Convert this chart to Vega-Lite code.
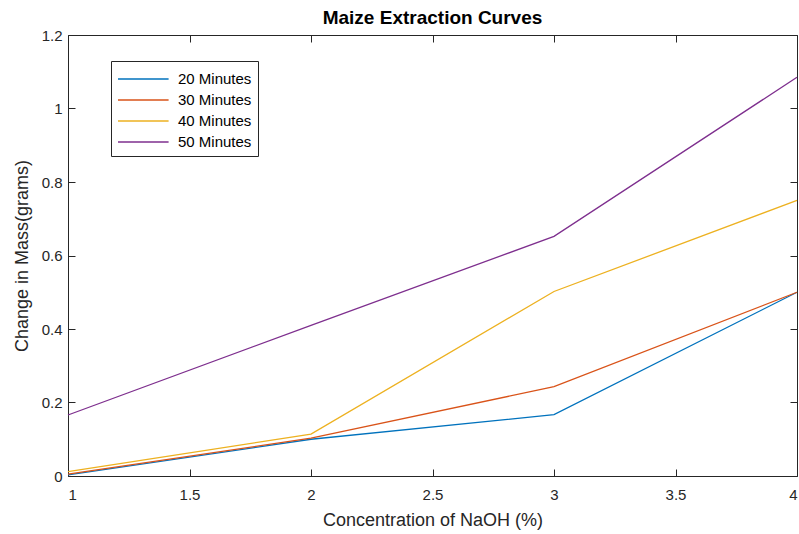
{
  "$schema": "https://vega.github.io/schema/vega-lite/v6.json",
  "width": 729,
  "height": 441,
  "autosize": "none",
  "padding": {"left": 68, "top": 35, "right": 2, "bottom": 58},
  "background": "white",
  "config": {
    "view": {"stroke": null},
    "font": "Liberation Sans",
    "axis": {"grid": false, "domainColor": "#262626", "tickColor": "#262626", "labelColor": "#262626", "titleColor": "#262626", "labelFontSize": 15, "titleFontSize": 18, "titleFontWeight": "normal", "labelFont": "Liberation Sans", "titleFont": "Liberation Sans", "tickSize": -7, "domainWidth": 1, "tickWidth": 1}
  },
  "title": {"text": "Maize Extraction Curves", "fontSize": 19, "fontWeight": "bold", "font": "Liberation Sans", "color": "#000000", "offset": 0, "anchor": "middle"},
  "data": {"values": [
    {"c": 1, "m": 0.003, "s": "20 Minutes"},
    {"c": 2, "m": 0.1, "s": "20 Minutes"},
    {"c": 3, "m": 0.167, "s": "20 Minutes"},
    {"c": 4, "m": 0.5, "s": "20 Minutes"},
    {"c": 1, "m": 0.005, "s": "30 Minutes"},
    {"c": 2, "m": 0.103, "s": "30 Minutes"},
    {"c": 3, "m": 0.243, "s": "30 Minutes"},
    {"c": 4, "m": 0.5, "s": "30 Minutes"},
    {"c": 1, "m": 0.012, "s": "40 Minutes"},
    {"c": 2, "m": 0.114, "s": "40 Minutes"},
    {"c": 3, "m": 0.502, "s": "40 Minutes"},
    {"c": 4, "m": 0.75, "s": "40 Minutes"},
    {"c": 1, "m": 0.166, "s": "50 Minutes"},
    {"c": 2, "m": 0.41, "s": "50 Minutes"},
    {"c": 3, "m": 0.652, "s": "50 Minutes"},
    {"c": 4, "m": 1.085, "s": "50 Minutes"}
  ]},
  "layer": [
    {
      "mark": {"type": "line", "strokeWidth": 1.3},
      "encoding": {
        "x": {"field": "c", "type": "quantitative", "scale": {"domain": [1, 4], "nice": false, "zero": false}, "axis": {"values": [1, 1.5, 2, 2.5, 3, 3.5, 4], "format": "~g", "title": "Concentration of NaOH (%)", "labelPadding": 18, "titlePadding": 9}},
        "y": {"field": "m", "type": "quantitative", "scale": {"domain": [0, 1.2], "nice": false}, "axis": {"values": [0, 0.2, 0.4, 0.6, 0.8, 1, 1.2], "format": "~g", "title": "Change in Mass(grams)", "labelPadding": 13, "titlePadding": 10}},
        "color": {"field": "s", "type": "nominal", "scale": {"domain": ["20 Minutes", "30 Minutes", "40 Minutes", "50 Minutes"], "range": ["#0072BD", "#D95319", "#EDB120", "#7E2F8E"]},
          "legend": {"title": null, "orient": "none", "legendX": 43, "legendY": 26, "symbolType": "M-1,0H3.6", "symbolSize": 484, "symbolStrokeWidth": 1.3, "labelFontSize": 15, "labelFont": "Liberation Sans", "labelColor": "#000000", "strokeColor": "#262626", "fillColor": "white", "padding": 6, "rowPadding": 1, "labelOffset": 37}}
      }
    },
    {
      "mark": {"type": "line", "opacity": 0},
      "encoding": {
        "x": {"field": "c", "type": "quantitative", "axis": {"orient": "top", "values": [1, 1.5, 2, 2.5, 3, 3.5, 4], "labels": false, "title": null}},
        "y": {"field": "m", "type": "quantitative", "axis": {"orient": "right", "values": [0, 0.2, 0.4, 0.6, 0.8, 1, 1.2], "labels": false, "title": null}},
        "detail": {"field": "s"}
      }
    }
  ],
  "resolve": {"axis": {"x": "independent", "y": "independent"}}
}
